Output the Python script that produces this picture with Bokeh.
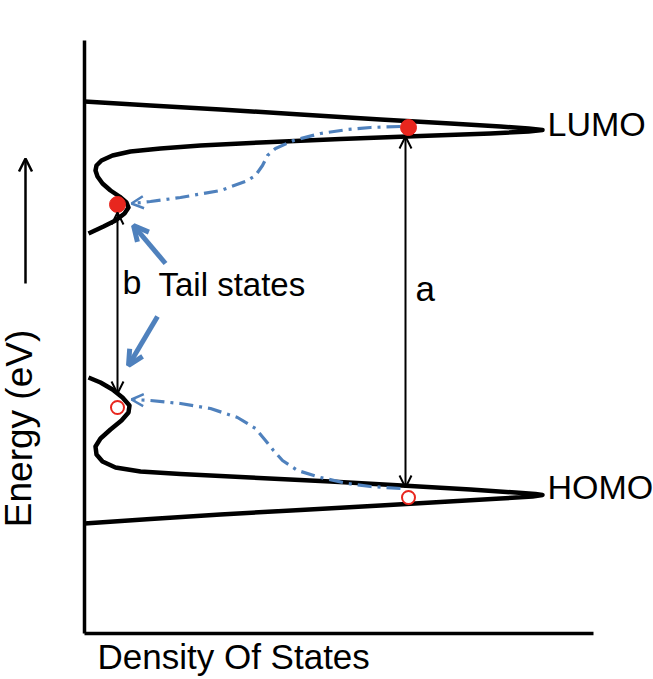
from bokeh.plotting import figure
from bokeh.models import Range1d, Arrow, OpenHead
from bokeh.core.properties import value
from bokeh.embed import file_html
from bokeh.resources import INLINE

FONT = value("Liberation Sans")
BLUE = "#4F81BD"
RED = "#E8261E"

# Density of states (x) versus energy (y), schematic units
lumo_dos = [0, 66, 136, 216, 296, 366, 416, 444, 458, 444, 406, 336, 256, 176, 116, 76, 46, 28, 17, 12, 11, 13, 18, 26, 35, 42, 44, 40, 31, 19, 4]
lumo_energy = [532, 528, 524, 519, 514, 510, 507, 505, 503.5, 502, 500, 497.5, 494.5, 491, 488, 485, 482, 478, 473, 468, 463, 457, 450, 443, 437, 431, 426, 420, 413, 407, 400]

homo_dos = [4, 16, 28, 38, 45, 44, 37, 26, 16, 11, 12, 18, 31, 56, 96, 166, 246, 326, 386, 431, 451, 458, 448, 416, 356, 296, 216, 136, 66, 0]
homo_energy = [256, 251, 244, 236, 228, 221, 213, 204, 195, 187, 179, 172, 166, 162, 159.5, 156, 152, 147.5, 144, 141, 139.5, 138.5, 137, 135, 131.5, 128, 123.5, 119, 114.5, 110]

# relaxation paths (dash-dot)
relax_e_dos = [316, 286, 263, 236, 209, 191, 183, 178, 171, 161, 136, 96, 66, 47]
relax_e_energy = [507, 506, 504, 500, 493, 485, 478, 468, 458, 452, 443, 436, 432, 430]
relax_h_dos = [316, 286, 263, 236, 213, 198, 189, 181, 171, 153, 126, 96, 66, 47]
relax_h_energy = [145, 147, 150, 156, 163, 173, 183, 193, 205, 216, 225, 230, 233, 234]

# carriers
electron_dos = [324, 33]
electron_energy = [506, 429]
hole_dos = [324, 33]
hole_energy = [136, 226]

# gaps
gap_a = dict(x=321, y0=497, y1=146)
gap_b = dict(x=33, y0=421, y1=240)

# axes extents
axis_dos_max = 509
axis_energy_max = 593

p = figure(width=653, height=679, x_range=Range1d(-84, 569), y_range=Range1d(-46, 633),
           output_backend="svg", toolbar_location=None, min_border=0,
           x_axis_location=None, y_axis_location=None)
p.grid.visible = False
p.outline_line_color = None
p.background_fill_color = "white"
p.border_fill_color = "white"

# axes lines
p.line([0, 0], [0, axis_energy_max], line_color="black", line_width=3.5)
p.line([0, axis_dos_max], [0, 0], line_color="black", line_width=3.5)

# DOS curves
p.line(lumo_dos, lumo_energy, line_color="black", line_width=4.5, line_join="round")
p.line(homo_dos, homo_energy, line_color="black", line_width=4.5, line_join="round")

# relaxation paths
p.line(relax_e_dos, relax_e_energy, line_color=BLUE, line_width=3.2, line_dash="14 6 3 6")
p.line(relax_h_dos, relax_h_energy, line_color=BLUE, line_width=3.2, line_dash="14 6 3 6")
for xs, ys in ((relax_e_dos, relax_e_energy), (relax_h_dos, relax_h_energy)):
    p.add_layout(Arrow(end=OpenHead(size=12, line_color=BLUE, line_width=2.5),
                       x_start=xs[-2], y_start=ys[-2], x_end=xs[-1], y_end=ys[-1],
                       line_alpha=0))

# carriers
p.scatter(electron_dos, electron_energy, marker="circle", size=16, fill_color=RED, line_color=RED)
p.scatter(hole_dos, hole_energy, marker="circle", size=13, fill_color="white", line_color=RED, line_width=2)

# gap arrows
for g in (gap_a, gap_b):
    p.add_layout(Arrow(start=OpenHead(size=12, line_color="black", line_width=2),
                       end=OpenHead(size=12, line_color="black", line_width=2),
                       x_start=g["x"], y_start=g["y0"], x_end=g["x"], y_end=g["y1"],
                       line_color="black", line_width=2))

# tail-state pointers
pointer_start_dos = [81, 73]
pointer_start_energy = [370, 317]
pointer_end_dos = [49, 44]
pointer_end_energy = [408, 268]
for i in range(2):
    p.add_layout(Arrow(end=OpenHead(size=15, line_color=BLUE, line_width=5),
                       x_start=pointer_start_dos[i], y_start=pointer_start_energy[i],
                       x_end=pointer_end_dos[i], y_end=pointer_end_energy[i],
                       line_color=BLUE, line_width=5))

# energy arrow
p.add_layout(Arrow(end=OpenHead(size=13, line_color="black", line_width=2.5),
                   x_start=-59, y_start=350, x_end=-59, y_end=475,
                   line_color="black", line_width=2.5))

# labels
p.text(x=[463], y=[491], text=["LUMO"], text_font=FONT, text_font_size="34px", text_color="black")
p.text(x=[463], y=[128], text=["HOMO"], text_font=FONT, text_font_size="34px", text_color="black")
p.text(x=[331], y=[326], text=["a"], text_font=FONT, text_font_size="35px", text_color="black")
p.text(x=[38], y=[333], text=["b"], text_font=FONT, text_font_size="34px", text_color="black")
p.text(x=[74], y=[331], text=["Tail states"], text_font=FONT, text_font_size="33px", text_color="black")
p.text(x=[13], y=[-42], text=["Density Of States"], text_font=FONT, text_font_size="35px", text_color="black")
p.text(x=[-45], y=[205], text=["Energy (eV)"], text_font=FONT, text_font_size="37px",
       text_color="black", angle=1.5707963, text_align="center")

open("out.html", "w").write(file_html(p, INLINE))
